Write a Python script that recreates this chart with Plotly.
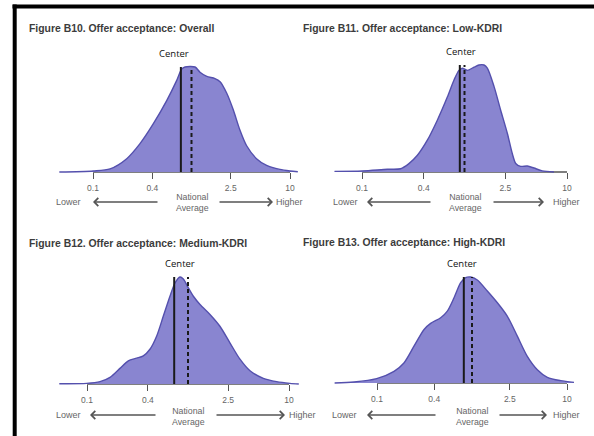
import plotly.graph_objects as go

W, H = 594, 436

# Ratio to national average (log axis) and relative density, one set per panel
overall_x = [0.0455, 0.1007, 0.149, 0.22, 0.30, 0.41, 0.56, 0.706, 0.794, 0.86, 1.086, 1.22,
             1.43, 1.73, 1.95, 2.28, 2.66, 3.10, 3.63, 4.57, 5.79, 7.9, 10.0, 12.0]
overall_y = [0.0, 0.01, 0.03, 0.127, 0.27, 0.46, 0.68, 0.87, 0.98, 1.0, 1.0, 0.95,
             0.91, 0.89, 0.86, 0.75, 0.59, 0.40, 0.25, 0.127, 0.063, 0.025, 0.01, 0.003]

low_x = [0.054, 0.1007, 0.177, 0.238, 0.287, 0.347, 0.434, 0.543, 0.68, 0.79, 0.883, 0.953,
         1.066, 1.239, 1.384, 1.55, 1.67, 1.94, 2.25, 2.62, 2.93, 3.16, 3.53, 4.1, 4.76, 5.74, 7.46]
low_y = [0.006, 0.01, 0.025, 0.03, 0.078, 0.156, 0.297, 0.484, 0.70, 0.86, 0.95, 0.97,
         0.95, 0.98, 1.0, 1.0, 0.97, 0.80, 0.58, 0.36, 0.17, 0.08, 0.053, 0.056, 0.037, 0.01, 0.0]

medium_x = [0.0532, 0.0993, 0.1345, 0.169, 0.212, 0.2565, 0.31, 0.361, 0.42, 0.49, 0.57, 0.663,
            0.743, 0.833, 0.899, 1.008, 1.13, 1.315, 1.65, 2.07, 2.6, 3.27, 4.11, 5.57, 7.55, 10.2, 12.5]
medium_y = [0.003, 0.006, 0.022, 0.062, 0.146, 0.217, 0.241, 0.263, 0.325, 0.449, 0.635, 0.82,
            0.944, 1.0, 0.981, 0.898, 0.82, 0.743, 0.65, 0.54, 0.385, 0.232, 0.124, 0.053, 0.022, 0.006, 0.0]

high_x = [0.0358, 0.0573, 0.0991, 0.151, 0.192, 0.245, 0.313, 0.367, 0.468, 0.55, 0.647, 0.76,
          0.857, 0.968, 1.138, 1.45, 1.85, 2.35, 3.0, 3.82, 4.87, 6.21, 8.57, 11.85]
high_y = [0.0, 0.009, 0.041, 0.11, 0.189, 0.347, 0.505, 0.562, 0.615, 0.678, 0.804, 0.946,
          0.994, 1.0, 0.972, 0.868, 0.757, 0.631, 0.442, 0.252, 0.126, 0.054, 0.022, 0.006]

center_values = [0.78, 0.90, 0.73, 0.82]
national_average = 1.0
tick_values = [0.1, 0.4, 2.5, 10]
tick_labels = ["0.1", "0.4", "2.5", "10"]

titles = [
    "Figure B10. Offer acceptance: Overall",
    "Figure B11. Offer acceptance: Low-KDRI",
    "Figure B12. Offer acceptance: Medium-KDRI",
    "Figure B13. Offer acceptance: High-KDRI",
]
series = [(overall_x, overall_y), (low_x, low_y), (medium_x, medium_y), (high_x, high_y)]

# Panel geometry in pixels: tick 0.1, tick 10, plot left, plot right, baseline, peak
panels = [
    dict(p01=93, p10=290, left=50, right=300, base=172, top=67,
         title=(27, 28), center=(174, 53), lower=(68, 202), nat=192,
         larrow=(159, 93), rarrow=(218, 273), higher=274, arrow_y=202),
    dict(p01=362, p10=567, left=325, right=580, base=172, top=65,
         title=(301, 28), center=(461, 52), lower=(345, 202), nat=465,
         larrow=(432, 367), rarrow=(492, 544), higher=551, arrow_y=202),
    dict(p01=87, p10=289, left=50, right=300, base=384, top=277,
         title=(27, 243), center=(180, 263), lower=(68, 415), nat=188,
         larrow=(157, 90), rarrow=(215, 285), higher=287, arrow_y=415),
    dict(p01=377, p10=567, left=325, right=585, base=383, top=277,
         title=(301, 242), center=(462, 263), lower=(344, 415), nat=472,
         larrow=(437, 367), rarrow=(498, 547), higher=551, arrow_y=415),
]

FILL = "#8985d0"
EDGE = "#5450ad"
GREY = "#666666"


def fx(px):
    return px / W


def fy(py):
    return 1 - py / H


fig = go.Figure()
layout_axes = {}
annotations = []

for i, (p, (xs, ys)) in enumerate(zip(panels, series)):
    n = "" if i == 0 else str(i + 1)
    xa, ya = "x" + n, "y" + n
    dec = (p["p10"] - p["p01"]) / 2.0
    lo = -1 - (p["p01"] - p["left"]) / dec
    hi = 1 + (p["right"] - p["p10"]) / dec
    hgt = p["base"] - p["top"]
    pad_b, pad_t = 2, 4

    # axis baseline between the outer ticks
    fig.add_trace(go.Scatter(x=[tick_values[0], tick_values[-1]], y=[0, 0], mode="lines",
                             line=dict(color="#555555", width=1.4), xaxis=xa, yaxis=ya,
                             hoverinfo="skip", showlegend=False))
    # density
    fig.add_trace(go.Scatter(x=xs, y=ys, mode="lines", fill="tozeroy", fillcolor=FILL,
                             line=dict(color=EDGE, width=1.4, shape="spline", smoothing=0.8),
                             xaxis=xa, yaxis=ya, showlegend=False))
    # center and national-average reference lines
    fig.add_trace(go.Scatter(x=[center_values[i]] * 2, y=[0, 1], mode="lines",
                             line=dict(color="#1a1a1a", width=2), xaxis=xa, yaxis=ya,
                             showlegend=False))
    fig.add_trace(go.Scatter(x=[national_average] * 2, y=[0, 1], mode="lines",
                             line=dict(color="#1a1a1a", width=2, dash="4px,3px"),
                             xaxis=xa, yaxis=ya, showlegend=False))

    layout_axes["xaxis" + n] = dict(
        type="log", range=[lo, hi], domain=[fx(p["left"]), fx(p["right"])],
        anchor="free", position=fy(p["base"]),
        tickvals=tick_values, ticktext=tick_labels, ticks="outside", ticklen=6,
        tickwidth=1.4, tickcolor="#555555", showline=False, showgrid=False,
        zeroline=False, tickfont=dict(family="Liberation Sans, Arial", size=8.5, color=GREY),
        ticklabelstandoff=2,
    )
    layout_axes["yaxis" + n] = dict(
        range=[-pad_b / hgt, 1 + pad_t / hgt],
        domain=[fy(p["base"] + pad_b), fy(p["top"] - pad_t)],
        anchor=xa, visible=False, fixedrange=True,
    )

    tx, ty = p["title"]
    annotations.append(dict(text="<b>" + titles[i] + "</b>", x=fx(tx), y=fy(ty),
                            xref="paper", yref="paper", xanchor="left", yanchor="middle",
                            showarrow=False,
                            font=dict(family="Liberation Sans, Arial", size=10.4, color="#3c3c3c")))
    cx, cy = p["center"]
    annotations.append(dict(text="Center", x=fx(cx), y=fy(cy), xref="paper", yref="paper",
                            xanchor="center", yanchor="middle", showarrow=False,
                            font=dict(family="Open Sans", size=9.5, color="#111111")))
    lx, ly = p["lower"]
    annotations.append(dict(text="Lower", x=fx(lx), y=fy(ly), xref="paper", yref="paper",
                            xanchor="center", yanchor="middle", showarrow=False,
                            font=dict(family="Liberation Sans, Arial", size=9, color=GREY)))
    annotations.append(dict(text="Higher", x=fx(p["higher"]), y=fy(ly), xref="paper",
                            yref="paper", xanchor="left", yanchor="middle", showarrow=False,
                            font=dict(family="Liberation Sans, Arial", size=9, color=GREY)))
    annotations.append(dict(text="National<br>Average", x=fx(p["nat"]), y=fy(ly + 1),
                            xref="paper", yref="paper", xanchor="center", yanchor="middle",
                            showarrow=False, align="center",
                            font=dict(family="Liberation Sans, Arial", size=8.8, color=GREY)))
    for tail, tip in (p["larrow"], p["rarrow"]):
        annotations.append(dict(text="", x=fx(tip), y=fy(p["arrow_y"]), xref="paper",
                                yref="paper", ax=tail - tip, ay=0, axref="pixel",
                                ayref="pixel", showarrow=True, arrowhead=4, arrowsize=1.2,
                                arrowwidth=1.3, arrowcolor="#555555", standoff=0))

shapes = [
    dict(type="line", xref="paper", yref="paper", x0=fx(12.5), x1=1.0,
         y0=fy(6.5), y1=fy(6.5), line=dict(color="black", width=4)),
    dict(type="line", xref="paper", yref="paper", x0=fx(14.7), x1=fx(14.7),
         y0=fy(4.5), y1=0.0, line=dict(color="black", width=4)),
]

fig.update_layout(
    width=W, height=H, margin=dict(l=0, r=0, t=0, b=0),
    paper_bgcolor="white", plot_bgcolor="rgba(0,0,0,0)",
    showlegend=False, annotations=annotations, shapes=shapes,
    **layout_axes,
)

fig.write_html("out.html")
